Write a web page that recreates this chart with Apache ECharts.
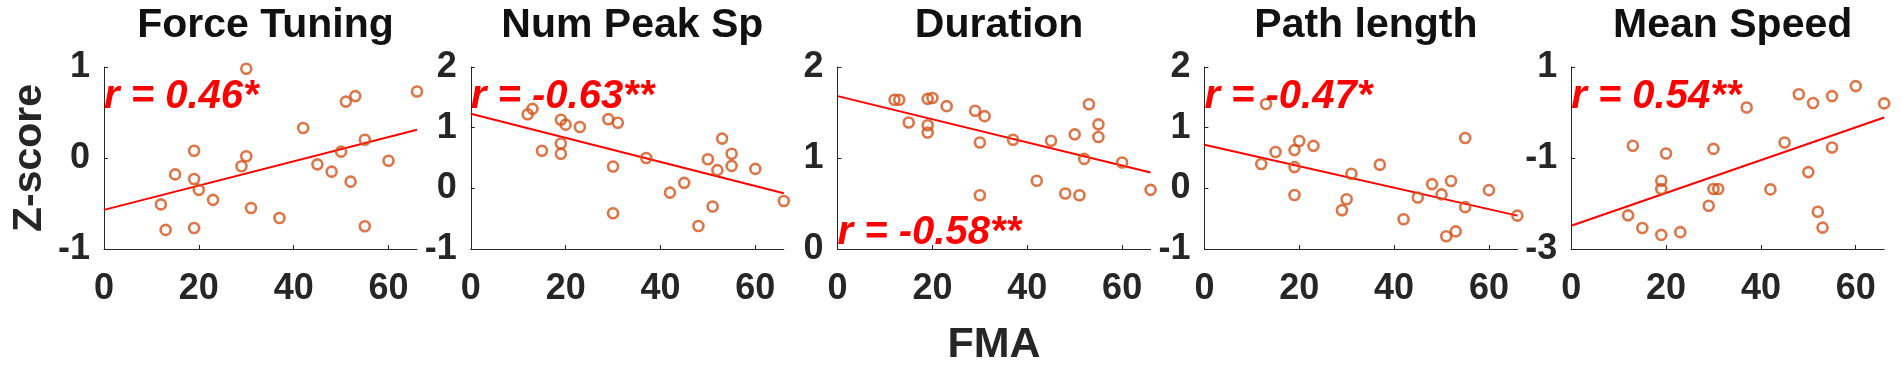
<!DOCTYPE html>
<html>
<head>
<meta charset="utf-8">
<title>Z-score vs FMA</title>
<script src="https://cdn.jsdelivr.net/npm/echarts@6/dist/echarts.min.js"></script>
<style>
  html, body { margin: 0; padding: 0; background: #fff; }
  #main { width: 1902px; height: 368px; }
</style>
</head>
<body>
<div id="main"></div>
<script>
// panel titles and correlation labels
const panelTitles = ['Force Tuning', 'Num Peak Sp', 'Duration', 'Path length', 'Mean Speed'];
const rLabels = ['r = 0.46*', 'r = -0.63**', 'r = -0.58**', 'r = -0.47*', 'r = 0.54**'];
const fmaTicks = [0, 20, 40, 60];

// y axis ranges per panel
const yMin = [-1, -1, 0, -1, -3];
const yMax = [1, 2, 2, 2, 1];
const yStep = [1, 1, 1, 1, 2];

// [FMA, z-score] per subject
const forceTuning = [
  [30, 0.98], [51, 0.62], [53, 0.68], [66, 0.73], [42, 0.33], [55, 0.20],
  [19, 0.08], [30, 0.02], [50, 0.07], [60, -0.03], [29, -0.09], [45, -0.07],
  [15, -0.18], [48, -0.15], [19, -0.23], [52, -0.26], [20, -0.35], [23, -0.46],
  [12, -0.51], [31, -0.55], [37, -0.66], [13, -0.79], [19, -0.77], [55, -0.75]
];
const numPeakSp = [
  [12, 1.22], [13, 1.31], [19, 1.13], [20, 1.05], [23, 1.01], [29, 1.14],
  [31, 1.08], [15, 0.62], [19, 0.74], [19, 0.57], [30, 0.36], [37, 0.50],
  [53, 0.82], [50, 0.48], [55, 0.57], [55, 0.37], [52, 0.30], [60, 0.32],
  [45, 0.09], [42, -0.07], [66, -0.21], [51, -0.30], [30, -0.41], [48, -0.62]
];
const duration = [
  [12, 1.64], [13, 1.64], [19, 1.65], [20, 1.66], [23, 1.57], [15, 1.39],
  [19, 1.36], [19, 1.28], [29, 1.52], [31, 1.46], [30, 1.17], [37, 1.20],
  [45, 1.19], [53, 1.59], [55, 1.37], [55, 1.23], [50, 1.26], [52, 0.99],
  [60, 0.95], [42, 0.75], [30, 0.59], [48, 0.61], [51, 0.59], [66, 0.65]
];
const pathLength = [
  [13, 1.39], [12, 0.40], [15, 0.60], [19, 0.63], [20, 0.78], [23, 0.70],
  [19, 0.35], [19, -0.11], [31, 0.24], [30, -0.18], [29, -0.36], [37, 0.39],
  [42, -0.51], [45, -0.15], [48, 0.07], [50, -0.10], [52, 0.12], [55, 0.83],
  [55, -0.31], [60, -0.03], [51, -0.79], [53, -0.71], [66, -0.45]
];
const meanSpeed = [
  [60, 0.58], [48, 0.40], [51, 0.21], [55, 0.36], [66, 0.20], [37, 0.11],
  [13, -0.73], [20, -0.90], [30, -0.80], [45, -0.66], [55, -0.77], [19, -1.50],
  [19, -1.68], [30, -1.68], [31, -1.68], [42, -1.69], [50, -1.31], [29, -2.05],
  [12, -2.26], [15, -2.54], [19, -2.69], [23, -2.63], [52, -2.18], [53, -2.53]
];
const panelPoints = [forceTuning, numPeakSp, duration, pathLength, meanSpeed];

// regression line endpoints
const fitLines = [
  [[0, -0.57], [66, 0.31]],
  [[0, 1.23], [66, -0.08]],
  [[0, 1.68], [66, 0.84]],
  [[0, 0.72], [66, -0.45]],
  [[0, -2.49], [66, -0.11]]
];

const myChart = echarts.init(document.getElementById('main'));
const FONT = '"Liberation Sans", Arial, sans-serif';
const axisColor = '#262626';
const gridW = 313, gridTop = 67, gridH = 182;
const rTop = [77, 77, 213, 77, 77];

const grids = [], xAxes = [], yAxes = [], series = [], titles = [];

for (let i = 0; i < 5; i++) {
  const left = 104 + i * 366.8;
  grids.push({ left: left, top: gridTop, width: gridW, height: gridH });

  xAxes.push({
    gridIndex: i,
    type: 'value',
    min: 0,
    max: 66,
    name: i === 2 ? 'FMA' : '',
    nameLocation: 'middle',
    nameGap: 75,
    nameTextStyle: { fontFamily: FONT, fontSize: 43, fontWeight: 'bold', color: axisColor },
    axisLine: { show: true, onZero: false, lineStyle: { color: axisColor, width: 1 } },
    axisTick: { show: true, inside: true, length: 4, customValues: fmaTicks, lineStyle: { color: axisColor } },
    axisLabel: {
      customValues: fmaTicks,
      margin: 22,
      fontFamily: FONT, fontSize: 36, fontWeight: 'bold', color: axisColor
    },
    splitLine: { show: false }
  });

  yAxes.push({
    gridIndex: i,
    type: 'value',
    min: yMin[i],
    max: yMax[i],
    interval: yStep[i],
    name: i === 0 ? 'Z-score' : '',
    nameLocation: 'middle',
    nameRotate: 90,
    nameGap: 54,
    nameTextStyle: { fontFamily: FONT, fontSize: 41, fontWeight: 'bold', color: axisColor },
    axisLine: { show: true, onZero: false, lineStyle: { color: axisColor, width: 1 } },
    axisTick: { show: true, inside: true, length: 4, lineStyle: { color: axisColor } },
    axisLabel: { margin: 14, fontFamily: FONT, fontSize: 36, fontWeight: 'bold', color: axisColor },
    splitLine: { show: false }
  });

  series.push({
    type: 'line',
    xAxisIndex: i,
    yAxisIndex: i,
    data: fitLines[i],
    symbol: 'none',
    silent: true,
    lineStyle: { color: '#ff0000', width: 2 },
    z: 2
  });

  series.push({
    type: 'scatter',
    xAxisIndex: i,
    yAxisIndex: i,
    data: panelPoints[i],
    symbol: 'circle',
    symbolSize: 10,
    itemStyle: { color: 'rgba(0,0,0,0)', borderColor: '#d2541a', borderWidth: 2.6 },
    z: 3
  });

  titles.push({
    text: panelTitles[i],
    left: left + gridW / 2,
    top: 0,
    textAlign: 'center',
    textStyle: { fontFamily: FONT, fontSize: 41, fontWeight: 'bold', color: '#111' }
  });

  titles.push({
    text: rLabels[i],
    left: left,
    top: rTop[i],
    padding: 0,
    textStyle: { fontFamily: FONT, fontSize: 40, fontWeight: 'bold', fontStyle: 'italic', color: '#ff0000' }
  });
}

const options = {
  backgroundColor: '#ffffff',
  animation: false,
  title: titles,
  grid: grids,
  xAxis: xAxes,
  yAxis: yAxes,
  series: series
};
myChart.setOption(options, true);
window.addEventListener('resize', function () {
  myChart.resize();
});
</script>
</body>
</html>
